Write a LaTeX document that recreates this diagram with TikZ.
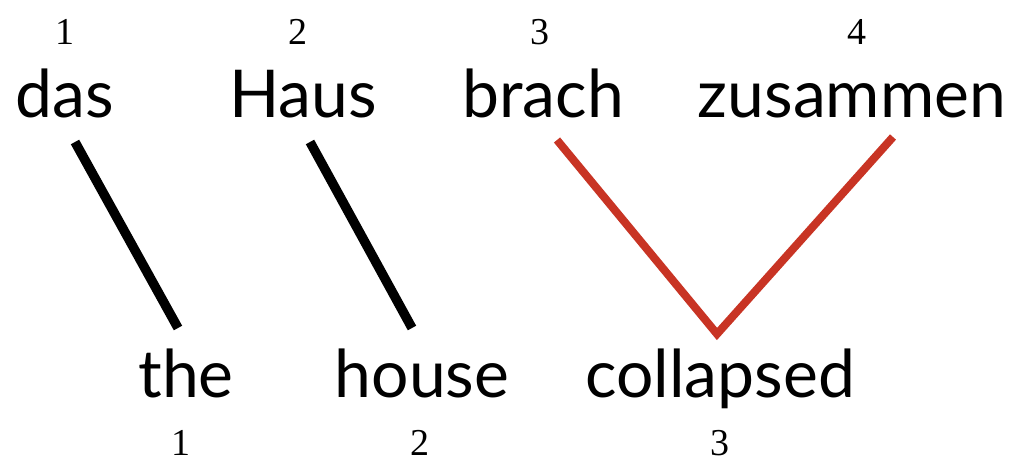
\documentclass[tikz,border=0pt]{standalone}
\usepackage{fontspec}
\setmainfont{Lato}
\newfontfamily\numfont{Liberation Serif}
\usepackage{tikz}
\definecolor{alignred}{RGB}{200,52,36}
\tikzset{
  word/.style={anchor=base,inner sep=0pt,font=\fontsize{66}{70}\selectfont},
  idx/.style={anchor=base,inner sep=0pt,font=\numfont\fontsize{38}{40}\selectfont},
  link/.style={line width=9.5pt,black},
  redlink/.style={line width=8pt,alignred,line join=miter}
}
\begin{document}
\begin{tikzpicture}[x=1pt,y=-1pt]
  \useasboundingbox (0,0) rectangle (1015,462);
  % German source words
  \node[word] (das) at (65,118) {das};
  \node[word] (haus) at (303,118) {Haus};
  \node[word] (brach) at (543,118) {brach};
  \node[word] (zus) at (852,118) {zusammen};
  \node[idx] (s1) at (65,45) {1};
  \node[idx] (s2) at (298,45) {2};
  \node[idx] (s3) at (540,45) {3};
  \node[idx] (s4) at (857,45) {4};
  % English target words
  \node[word] (the) at (186,397) {the};
  \node[word] (house) at (422,397) {house};
  \node[word] (coll) at (720,397) {collapsed};
  \node[idx] (t1) at (181,455) {1};
  \node[idx] (t2) at (420,455) {2};
  \node[idx] (t3) at (720,455) {3};
  % alignment end points
  \coordinate (das-e) at (75,142);
  \coordinate (the-e) at (178,328);
  \coordinate (haus-e) at (310,142);
  \coordinate (house-e) at (412,328);
  \coordinate (brach-e) at (557,140);
  \coordinate (zus-e) at (893,137);
  \coordinate (coll-e) at (717,334);
  % one-to-one links
  \draw[link] (das-e) -- (the-e);
  \draw[link] (haus-e) -- (house-e);
  % two-to-one link
  \draw[redlink] (brach-e) -- (coll-e) -- (zus-e);
\end{tikzpicture}
\end{document}
